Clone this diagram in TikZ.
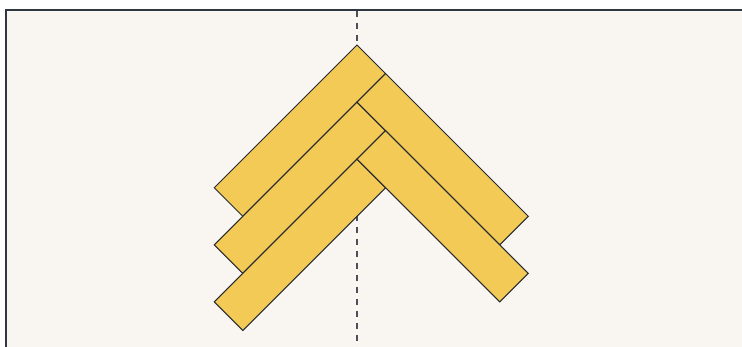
\documentclass[tikz,border=0pt]{standalone}
\definecolor{bgcream}{HTML}{F9F6F1}
\definecolor{framecol}{HTML}{2E3640}
\definecolor{plankcol}{HTML}{F2CA55}
\definecolor{edgecol}{HTML}{262A30}
\definecolor{dashcol}{HTML}{4A515B}
\tikzset{
  plankbox/.style={fill=plankcol, draw=edgecol, line width=1pt, line join=miter},
  axisline/.style={draw=dashcol, line width=1.6pt, dash pattern=on 6pt off 6pt},
  framebox/.style={draw=framecol, line width=2pt, fill=bgcream}
}
\begin{document}
\begin{tikzpicture}[x=1pt,y=-1pt]
  \def\a{28.55}
  \useasboundingbox (0,0) rectangle (742,347);
  \clip (0,0) rectangle (742,347);
  \fill[white] (0,0) rectangle (742,347);
  \draw[framebox] (6,10) rectangle (770,380);
  \coordinate (axtop) at (357,11);
  \coordinate (axbot) at (357,347);
  \draw[axisline] (axtop) -- (axbot);
  % left planks (rising to the right)
  \foreach \k in {0,1,2}{
    \draw[plankbox] (357,{45+2*\k*\a}) -- ++(\a,\a) -- ++(-5*\a,5*\a) -- ++(-\a,-\a) -- cycle;
  }
  % right planks (falling to the right)
  \foreach \k in {0,1}{
    \draw[plankbox] ({357+\a},{45+\a+2*\k*\a}) -- ++(5*\a,5*\a) -- ++(-\a,\a) -- ++(-5*\a,-5*\a) -- cycle;
  }
\end{tikzpicture}
\end{document}
